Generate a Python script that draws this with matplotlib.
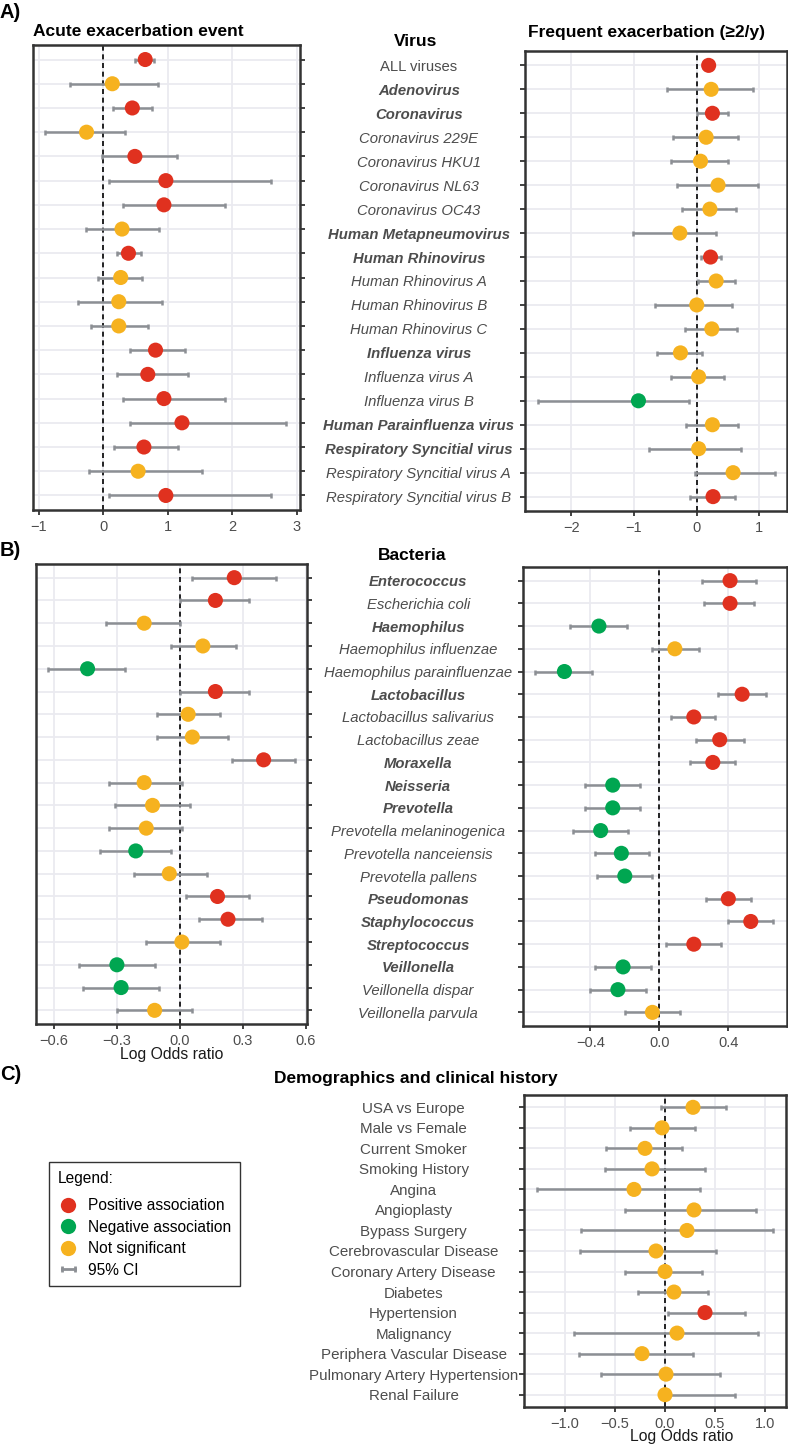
import numpy as np
import matplotlib
matplotlib.use('Agg')
import matplotlib.pyplot as plt
from matplotlib.lines import Line2D
from matplotlib.legend_handler import HandlerLine2D

plt.rcParams['font.family'] = ['Liberation Sans', 'DejaVu Sans']

# ------------------------------------------------------------------ data
virus_labels = ["ALL viruses", "Adenovirus", "Coronavirus", "Coronavirus 229E",
                "Coronavirus HKU1", "Coronavirus NL63", "Coronavirus OC43",
                "Human Metapneumovirus", "Human Rhinovirus", "Human Rhinovirus A",
                "Human Rhinovirus B", "Human Rhinovirus C", "Influenza virus",
                "Influenza virus A", "Influenza virus B", "Human Parainfluenza virus",
                "Respiratory Syncitial virus", "Respiratory Syncitial virus A",
                "Respiratory Syncitial virus B"]
virus_level = ["all", "genus", "genus", "species", "species", "species", "species",
               "genus", "genus", "species", "species", "species", "genus", "species",
               "species", "genus", "genus", "species", "species"]

acute_virus_est = [0.65, 0.14, 0.45, -0.26, 0.49, 0.97, 0.94, 0.29, 0.39, 0.27,
                   0.24, 0.24, 0.81, 0.69, 0.94, 1.22, 0.63, 0.54, 0.97]
acute_virus_lo = [0.49, -0.51, 0.15, -0.90, -0.02, 0.09, 0.31, -0.27, 0.21, -0.08,
                  -0.39, -0.19, 0.41, 0.21, 0.31, 0.41, 0.17, -0.22, 0.09]
acute_virus_hi = [0.79, 0.85, 0.76, 0.33, 1.14, 2.60, 1.89, 0.86, 0.58, 0.60,
                  0.91, 0.69, 1.27, 1.31, 1.89, 2.84, 1.16, 1.53, 2.60]
acute_virus_sig = ["pos", "ns", "pos", "ns", "pos", "pos", "pos", "ns", "pos", "ns",
                   "ns", "ns", "pos", "pos", "pos", "pos", "pos", "ns", "pos"]

freq_virus_est = [0.19, 0.23, 0.25, 0.15, 0.06, 0.34, 0.21, -0.27, 0.22, 0.31,
                  0.00, 0.24, -0.26, 0.03, -0.93, 0.25, 0.03, 0.58, 0.26]
freq_virus_lo = [0.13, -0.48, 0.00, -0.38, -0.41, -0.31, -0.23, -1.01, 0.07, 0.02,
                 -0.67, -0.19, -0.64, -0.41, -2.54, -0.17, -0.76, -0.02, -0.10]
freq_virus_hi = [0.25, 0.90, 0.50, 0.66, 0.50, 0.97, 0.63, 0.30, 0.38, 0.61,
                 0.56, 0.64, 0.08, 0.44, -0.12, 0.66, 0.70, 1.25, 0.61]
freq_virus_sig = ["pos", "ns", "pos", "ns", "ns", "ns", "ns", "ns", "pos", "ns",
                  "ns", "ns", "ns", "ns", "neg", "ns", "ns", "ns", "pos"]

bact_labels = ["Enterococcus", "Escherichia coli", "Haemophilus",
               "Haemophilus influenzae", "Haemophilus parainfluenzae", "Lactobacillus",
               "Lactobacillus salivarius", "Lactobacillus zeae", "Moraxella", "Neisseria",
               "Prevotella", "Prevotella melaninogenica", "Prevotella nanceiensis",
               "Prevotella pallens", "Pseudomonas", "Staphylococcus", "Streptococcus",
               "Veillonella", "Veillonella dispar", "Veillonella parvula"]
bact_level = ["genus", "species", "genus", "species", "species", "genus", "species",
              "species", "genus", "genus", "genus", "species", "species", "species",
              "genus", "genus", "genus", "genus", "species", "species"]

acute_bact_est = [0.26, 0.17, -0.17, 0.11, -0.44, 0.17, 0.04, 0.06, 0.40, -0.17,
                  -0.13, -0.16, -0.21, -0.05, 0.18, 0.23, 0.01, -0.30, -0.28, -0.12]
acute_bact_lo = [0.06, 0.00, -0.35, -0.04, -0.63, 0.00, -0.11, -0.11, 0.25, -0.34,
                 -0.31, -0.34, -0.38, -0.22, 0.03, 0.09, -0.16, -0.48, -0.46, -0.30]
acute_bact_hi = [0.46, 0.33, 0.00, 0.27, -0.26, 0.33, 0.19, 0.23, 0.55, 0.01,
                 0.05, 0.01, -0.04, 0.13, 0.33, 0.39, 0.19, -0.12, -0.10, 0.06]
acute_bact_sig = ["pos", "pos", "ns", "ns", "neg", "pos", "ns", "ns", "pos", "ns",
                  "ns", "ns", "neg", "ns", "pos", "pos", "ns", "neg", "neg", "ns"]

freq_bact_est = [0.41, 0.41, -0.35, 0.09, -0.55, 0.48, 0.20, 0.35, 0.31, -0.27,
                 -0.27, -0.34, -0.22, -0.20, 0.40, 0.53, 0.20, -0.21, -0.24, -0.04]
freq_bact_lo = [0.25, 0.26, -0.52, -0.04, -0.72, 0.34, 0.07, 0.21, 0.18, -0.43,
                -0.43, -0.50, -0.37, -0.36, 0.27, 0.40, 0.04, -0.37, -0.40, -0.20]
freq_bact_hi = [0.56, 0.55, -0.19, 0.23, -0.39, 0.62, 0.32, 0.49, 0.44, -0.11,
                -0.11, -0.18, -0.06, -0.04, 0.53, 0.66, 0.36, -0.05, -0.08, 0.12]
freq_bact_sig = ["pos", "pos", "neg", "ns", "neg", "pos", "pos", "pos", "pos", "neg",
                 "neg", "neg", "neg", "neg", "pos", "pos", "pos", "neg", "neg", "ns"]

demo_labels = ["USA vs Europe", "Male vs Female", "Current Smoker", "Smoking History",
               "Angina", "Angioplasty", "Bypass Surgery", "Cerebrovascular Disease",
               "Coronary Artery Disease", "Diabetes", "Hypertension", "Malignancy",
               "Periphera Vascular Disease", "Pulmonary Artery Hypertension",
               "Renal Failure"]
demo_est = [0.28, -0.03, -0.20, -0.13, -0.31, 0.29, 0.22, -0.09, 0.00, 0.09,
            0.40, 0.12, -0.23, 0.01, 0.00]
demo_lo = [-0.04, -0.35, -0.59, -0.60, -1.28, -0.40, -0.84, -0.85, -0.40, -0.27,
           0.03, -0.91, -0.86, -0.64, -0.03]
demo_hi = [0.61, 0.30, 0.17, 0.40, 0.35, 0.91, 1.08, 0.51, 0.37, 0.43,
           0.80, 0.93, 0.28, 0.55, 0.70]
demo_sig = ["ns", "ns", "ns", "ns", "ns", "ns", "ns", "ns", "ns", "ns",
            "pos", "ns", "ns", "ns", "ns"]

ticks_acute_virus = [-1, 0, 1, 2, 3]
ticklabels_acute_virus = ["\u22121", "0", "1", "2", "3"]
ticks_freq_virus = [-2, -1, 0, 1]
ticklabels_freq_virus = ["\u22122", "\u22121", "0", "1"]
ticks_acute_bact = [-0.6, -0.3, 0.0, 0.3, 0.6]
ticklabels_acute_bact = ["\u22120.6", "\u22120.3", "0.0", "0.3", "0.6"]
ticks_freq_bact = [-0.4, 0.0, 0.4]
ticklabels_freq_bact = ["\u22120.4", "0.0", "0.4"]
ticks_demo = [-1.0, -0.5, 0.0, 0.5, 1.0]
ticklabels_demo = ["\u22121.0", "\u22120.5", "0.0", "0.5", "1.0"]

# ------------------------------------------------------------------ style
COLORS = {"pos": "#E0311F", "neg": "#00A651", "ns": "#F6B21F"}
CI_COLOR = "#8C8F94"
FRAME = "#333333"
GRID = "#EAEAF0"
TICKTXT = "#4D4D4D"

W, H = 788, 1445
fig = plt.figure(figsize=(W / 100, H / 100), dpi=100)


def rect(l, t, r, b):
    return [l / W, 1 - b / H, (r - l) / W, (b - t) / H]


def forest(ax, est, lo, hi, sig, xlim, xticks, xticklabels, side):
    est = np.asarray(est, float)
    lo = np.asarray(lo, float)
    hi = np.asarray(hi, float)
    n = len(est)
    y = np.arange(n)[::-1]
    ax.axvline(0, color="black", lw=1.2, ls=(0, (3.0, 2.2)), zorder=1.5)
    ax.errorbar(est, y, xerr=[est - lo, hi - est], fmt="none", ecolor=CI_COLOR,
                elinewidth=1.8, capsize=1.8, capthick=1.8, zorder=2)
    ax.scatter(est, y, s=118, c=[COLORS[s] for s in sig], edgecolors="none", zorder=3)
    ax.set_xlim(*xlim)
    ax.set_ylim(-0.6, n - 0.4)
    ax.set_yticks(y)
    ax.set_xticks(xticks)
    ax.set_xticklabels(xticklabels)
    ax.grid(True, color=GRID, lw=1.3)
    ax.set_axisbelow(True)
    for sp in ax.spines.values():
        sp.set_color(FRAME)
        sp.set_linewidth(1.8)
    ax.tick_params(axis="both", direction="out", length=3.5, width=1.3, color=FRAME,
                   labelcolor=TICKTXT, labelsize=10.5)
    if side == "right":
        ax.yaxis.tick_right()
        ax.set_yticklabels([])
    return y


def style_labels(ax, labels, levels, pad, size):
    ax.set_yticklabels(labels)
    ax.tick_params(axis="y", pad=pad, labelsize=size)
    for t, lev in zip(ax.get_yticklabels(), levels):
        t.set_ha("center")
        if lev == "genus":
            t.set_fontstyle("italic")
            t.set_fontweight("bold")
        elif lev == "species":
            t.set_fontstyle("italic")


# ---- A
axA1 = fig.add_axes(rect(33, 45, 300, 510))
forest(axA1, acute_virus_est, acute_virus_lo, acute_virus_hi, acute_virus_sig,
       (-1.09, 3.05), ticks_acute_virus, ticklabels_acute_virus, "right")
axA2 = fig.add_axes(rect(525, 51, 787, 511))
forest(axA2, freq_virus_est, freq_virus_lo, freq_virus_hi, freq_virus_sig,
       (-2.74, 1.44), ticks_freq_virus, ticklabels_freq_virus, "left")
style_labels(axA2, virus_labels, virus_level, 73, 10.7)

# ---- B
axB1 = fig.add_axes(rect(36, 564, 307, 1024))
forest(axB1, acute_bact_est, acute_bact_lo, acute_bact_hi, acute_bact_sig,
       (-0.686, 0.607), ticks_acute_bact, ticklabels_acute_bact, "right")
axB1.set_xlabel("Log Odds ratio", fontsize=11.3, color="#1A1A1A")
axB1.xaxis.set_label_coords(0.5, -0.05)
axB1.xaxis.label.set_va("top")
axB2 = fig.add_axes(rect(523, 567, 787, 1026))
forest(axB2, freq_bact_est, freq_bact_lo, freq_bact_hi, freq_bact_sig,
       (-0.79, 0.74), ticks_freq_bact, ticklabels_freq_bact, "left")
style_labels(axB2, bact_labels, bact_level, 72, 10.7)

# ---- C
axC = fig.add_axes(rect(524, 1095, 786, 1407))
forest(axC, demo_est, demo_lo, demo_hi, demo_sig,
       (-1.41, 1.21), ticks_demo, ticklabels_demo, "left")
style_labels(axC, demo_labels, ["all"] * len(demo_labels), 76, 10.9)
axC.set_xlabel("Log Odds ratio", fontsize=11.3, color="#1A1A1A")
axC.xaxis.set_label_coords(0.60, -0.07)
axC.xaxis.label.set_va("top")

# ---- titles
def ftext(x, y, s, **kw):
    fig.text(x / W, 1 - y / H, s, **kw)

ftext(0, 12, "A)", fontsize=14.5, fontweight="bold", va="center", ha="left")
ftext(0, 550, "B)", fontsize=14.5, fontweight="bold", va="center", ha="left")
ftext(0, 1075, "C)", fontsize=14.5, fontweight="bold", va="center", ha="left")
ftext(33, 32, "Acute exacerbation event", fontsize=12.5, fontweight="bold",
      va="center", ha="left")
ftext(647, 32, "Frequent exacerbation (\u22652/y)", fontsize=12.5, fontweight="bold",
      va="center", ha="center")
ftext(416, 41, "Virus", fontsize=12.5, fontweight="bold", va="center", ha="center")
ftext(412, 555, "Bacteria", fontsize=12.5, fontweight="bold", va="center", ha="center")
ftext(416, 1078, "Demographics and clinical history", fontsize=12.5,
      fontweight="bold", va="center", ha="center")

# ---- legend
handles = [
    Line2D([], [], ls="none", marker="o", markersize=11, color=COLORS["pos"], mec="none"),
    Line2D([], [], ls="none", marker="o", markersize=11, color=COLORS["neg"], mec="none"),
    Line2D([], [], ls="none", marker="o", markersize=11, color=COLORS["ns"], mec="none"),
]
ci_handle = Line2D([], [], color=CI_COLOR, lw=2, marker="|", markersize=5, mew=2)
handles.append(ci_handle)
leg = fig.legend(handles, ["Positive association", "Negative association",
                           "Not significant", "95% CI"],
                 loc="upper left", bbox_to_anchor=(49 / W, 1 - 1162 / H),
                 borderaxespad=0,
                 title="Legend:", title_fontsize=11.2, fontsize=11.2,
                 frameon=True, fancybox=False, edgecolor=FRAME, framealpha=1,
                 handlelength=1.4, handletextpad=0.55, labelspacing=0.42,
                 borderpad=0.55, alignment="left",
                 handler_map={ci_handle: HandlerLine2D(numpoints=2)})
leg.get_frame().set_linewidth(1.0)
try:
    leg._legend_box.sep = 9
except Exception:
    pass

fig.savefig("out.png", dpi=100)
